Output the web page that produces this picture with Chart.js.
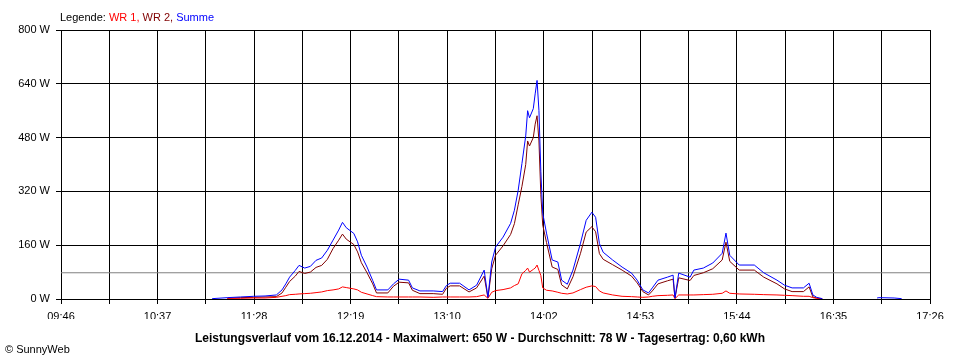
<!DOCTYPE html>
<html>
<head>
<meta charset="utf-8">
<title>Leistungsverlauf 16.12.2014</title>
<script src="https://cdn.jsdelivr.net/npm/chart.js@4.4.1/dist/chart.umd.min.js"></script>
<style>
  html, body { margin: 0; padding: 0; background: #fff; }
  canvas { display: block; }
</style>
</head>
<body>
<canvas id="myChart" width="960" height="360"></canvas>
<script>
'use strict';

// Daten
const times = [
  '11:06', '11:14', '11:21', '11:28', '11:34', '11:40', '11:43', '11:45', '11:47', '11:50',
  '11:52', '11:55', '11:58', '12:01', '12:04', '12:07', '12:10', '12:13', '12:15', '12:17',
  '12:21', '12:23', '12:25', '12:28', '12:31', '12:33', '12:39', '12:42', '12:45', '12:50',
  '12:52', '12:56', '13:03', '13:08', '13:10', '13:12', '13:17', '13:22', '13:26', '13:30',
  '13:32', '13:34', '13:36', '13:40', '13:44', '13:46', '13:48', '13:50', '13:52', '13:53',
  '13:54', '13:56', '13:57', '13:58', '13:59', '14:00', '14:01', '14:03', '14:06', '14:09',
  '14:11', '14:14', '14:17', '14:21', '14:24', '14:27', '14:29', '14:31', '14:33', '14:38',
  '14:43', '14:48', '14:51', '14:54', '14:57', '14:59', '15:02', '15:07', '15:10', '15:11',
  '15:13', '15:19', '15:21', '15:26', '15:31', '15:36', '15:38', '15:40', '15:45', '15:53',
  '15:58', '16:05', '16:09', '16:13', '16:19', '16:22', '16:24', '16:26', '16:29', '16:30',
  '16:58', '16:59', '17:07', '17:11'
];

const summe = [
  1, 4, 6, 8, 9, 12, 27, 45, 65, 85,
  100, 92, 97, 115, 122, 145, 175, 205, 228, 212,
  195, 170, 130, 95, 55, 27, 27, 45, 59, 56,
  33, 24, 24, 22, 40, 47, 47, 27, 41, 86,
  5, 110, 154, 184, 225, 264, 323, 403, 485, 560,
  539, 566, 610, 650, 560, 380, 255, 196, 116, 110,
  56, 44, 86, 166, 234, 258, 243, 165, 139, 116,
  95, 77, 56, 27, 18, 33, 56, 65, 71, 3,
  77, 65, 86, 92, 107, 136, 196, 130, 101, 101,
  78, 56, 41, 33, 33, 47, 12, 5, 1, null,
  3, 4, 3, 1
];

const wr2 = [
  null, 2, 4, 5, 6, 7, 18, 35, 52, 68,
  82, 76, 80, 94, 100, 118, 150, 175, 193, 178,
  162, 140, 108, 78, 45, 18, 18, 38, 50, 48,
  26, 16, 16, 14, 32, 39, 39, 21, 33, 68,
  3, 90, 130, 158, 192, 224, 280, 335, 400, 470,
  455, 480, 520, 545, 470, 310, 220, 168, 95, 88,
  42, 30, 66, 136, 199, 215, 200, 135, 118, 102,
  86, 68, 48, 22, 12, 24, 45, 54, 59, 2,
  63, 55, 70, 78, 90, 116, 169, 112, 86, 86,
  65, 45, 30, 22, 22, 36, 6, 3, 0, null,
  null, null, null, null
];

const wr1 = [
  null, 2, 2, 3, 3, 5, 8, 10, 13, 14,
  15, 16, 17, 19, 21, 25, 27, 30, 36, 34,
  30, 27, 20, 15, 10, 7, 6, 6, 6, 6,
  6, 6, 5, 6, 6, 6, 6, 6, 7, 12,
  2, 20, 25, 28, 33, 40, 45, 75, 85, 92,
  80, 88, 92, 101, 85, 70, 33, 26, 24, 20,
  17, 15, 18, 28, 35, 39, 37, 24, 18, 12,
  8, 7, 6, 5, 6, 8, 10, 11, 12, 1,
  12, 12, 12, 13, 14, 17, 24, 17, 15, 14,
  13, 12, 11, 10, 8, 8, 4, 2, 0, null,
  null, null, null, null
];

const tickLabels = ['09:46', '10:37', '11:28', '12:19', '13:10', '14:02', '14:53', '15:44', '16:35', '17:26'];
const yTicks = [0, 160, 320, 480, 640, 800];
const durchschnitt = 78;

const fontFamily = '"Liberation Sans", Arial, sans-serif';

function toMinutes(s) {
  const p = s.split(':');
  return Number(p[0]) * 60 + Number(p[1]);
}

const xMin = toMinutes(tickLabels[0]);
const xMax = toMinutes(tickLabels[tickLabels.length - 1]);
const gridCount = (tickLabels.length - 1) * 2;
const gridStep = (xMax - xMin) / gridCount;

function points(values) {
  return times.map((t, i) => ({ x: toMinutes(t), y: values[i] }));
}

// Texte: Legende oben, Titel unten, Copyright
const textPlugin = {
  id: 'texte',
  afterDraw(chart) {
    const ctx = chart.ctx;
    ctx.save();
    ctx.textBaseline = 'alphabetic';
    ctx.font = '11px ' + fontFamily;
    const parts = [
      ['Legende: ', '#000000'],
      ['WR 1, ', '#ff0000'],
      ['WR 2, ', '#800000'],
      ['Summe', '#0000ff']
    ];
    let x = 60;
    for (let i = 0; i < parts.length; i++) {
      ctx.fillStyle = parts[i][1];
      ctx.fillText(parts[i][0], x, 21);
      x += ctx.measureText(parts[i][0]).width;
    }

    ctx.fillStyle = '#000000';
    ctx.font = 'bold 12px ' + fontFamily;
    ctx.textAlign = 'center';
    ctx.fillText('Leistungsverlauf vom 16.12.2014 - Maximalwert: 650 W - Durchschnitt: 78 W - Tagesertrag: 0,60 kWh', 480, 342);

    ctx.textAlign = 'left';
    ctx.font = '11px ' + fontFamily;
    ctx.fillText('\u00a9 SunnyWeb', 5, 353);
    ctx.restore();
  }
};

const ctx = document.getElementById('myChart');

let config = {
  type: 'line',
  data: {
    datasets: [
      {
        label: 'Summe',
        data: points(summe),
        borderColor: '#0000ff',
        borderWidth: 1,
        pointRadius: 0,
        spanGaps: false
      },
      {
        label: 'WR 1',
        data: points(wr1),
        borderColor: '#ff0000',
        borderWidth: 1,
        pointRadius: 0,
        spanGaps: false
      },
      {
        label: 'WR 2',
        data: points(wr2),
        borderColor: '#800000',
        borderWidth: 1,
        pointRadius: 0,
        spanGaps: false
      },
      {
        label: 'Durchschnitt',
        data: [{ x: xMin, y: durchschnitt }, { x: xMax, y: durchschnitt }],
        borderColor: '#808080',
        borderWidth: 1,
        pointRadius: 0
      }
    ]
  },
  options: {
    responsive: false,
    animation: false,
    devicePixelRatio: 1,
    layout: {
      padding: { top: 30, right: 30, left: 0, bottom: 41 }
    },
    plugins: {
      legend: { display: false },
      tooltip: { enabled: false }
    },
    scales: {
      x: {
        type: 'linear',
        min: xMin,
        max: xMax,
        afterBuildTicks(scale) {
          const ticks = [];
          for (let i = 0; i <= gridCount; i++) {
            ticks.push({ value: xMin + i * gridStep });
          }
          scale.ticks = ticks;
        },
        afterFit(scale) {
          scale.height = 20;
        },
        grid: { color: '#000000', lineWidth: 1, tickLength: 5 },
        border: { color: '#000000', width: 1 },
        ticks: {
          autoSkip: false,
          maxRotation: 0,
          padding: 6,
          color: '#000000',
          font: { family: fontFamily, size: 11 },
          callback: function (value, index) {
            return index % 2 === 0 ? tickLabels[index / 2] : '';
          }
        }
      },
      y: {
        min: yTicks[0],
        max: yTicks[yTicks.length - 1],
        afterBuildTicks(scale) {
          scale.ticks = yTicks.map(v => ({ value: v }));
        },
        afterFit(scale) {
          scale.width = 61;
        },
        grid: { color: '#000000', lineWidth: 1, tickLength: 5 },
        border: { color: '#000000', width: 1 },
        ticks: {
          padding: 6,
          color: '#000000',
          font: { family: fontFamily, size: 11 },
          callback: function (value) {
            return value + ' W';
          }
        }
      }
    }
  },
  plugins: [textPlugin]
};

const chart = new Chart(ctx, config);
</script>
</body>
</html>
